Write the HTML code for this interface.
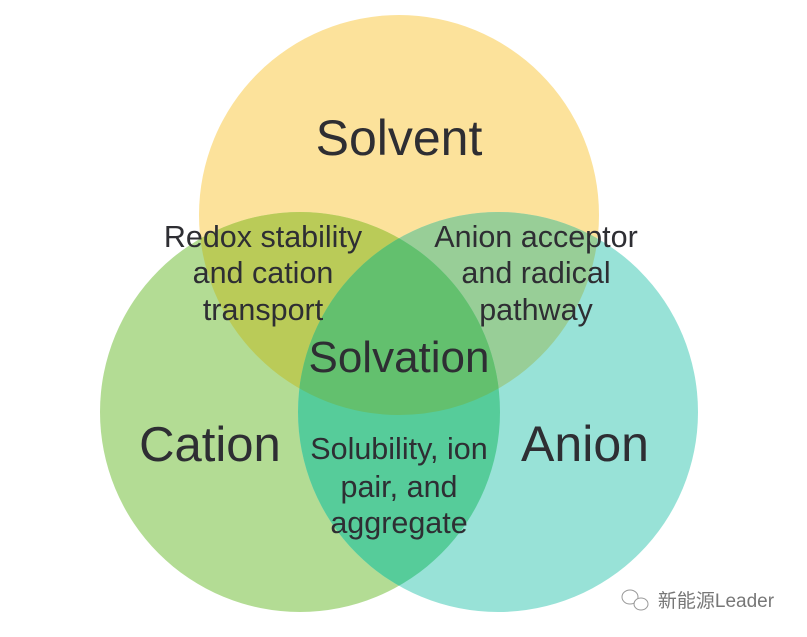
<!DOCTYPE html>
<html><head><meta charset="utf-8"><style>
html,body{margin:0;padding:0;background:#fff;width:807px;height:637px;overflow:hidden}
text{font-family:"Liberation Sans",Arial,sans-serif;fill:#2e2e33;text-anchor:middle}
</style></head><body>
<svg width="807" height="637" viewBox="0 0 807 637" xmlns="http://www.w3.org/2000/svg">
<defs>
<clipPath id="cs"><circle cx="399" cy="215" r="200"/></clipPath>
<clipPath id="cc"><circle cx="300" cy="412" r="200"/></clipPath>
<clipPath id="csc" clip-path="url(#cs)"><circle cx="300" cy="412" r="200"/></clipPath>
</defs>
<circle cx="399" cy="215" r="200" fill="#fce29b"/>
<circle cx="300" cy="412" r="200" fill="#b3dc94"/>
<circle cx="498" cy="412" r="200" fill="#98e2d7"/>
<circle cx="300" cy="412" r="200" fill="#bacb58" clip-path="url(#cs)"/>
<circle cx="498" cy="412" r="200" fill="#98ce97" clip-path="url(#cs)"/>
<circle cx="498" cy="412" r="200" fill="#56cc9a" clip-path="url(#cc)"/>
<circle cx="498" cy="412" r="200" fill="#63c06e" clip-path="url(#csc)"/>
<text x="399" y="155" font-size="50">Solvent</text>
<text x="210" y="461" font-size="49">Cation</text>
<text x="585" y="461" font-size="50">Anion</text>
<text x="399" y="372" font-size="44">Solvation</text>
<text x="263" y="247" font-size="30.5">Redox stability</text>
<text x="263" y="283" font-size="30.5">and cation</text>
<text x="263" y="320" font-size="30.5">transport</text>
<text x="536" y="247" font-size="30.5">Anion acceptor</text>
<text x="536" y="283" font-size="30.5">and radical</text>
<text x="536" y="320" font-size="30.5">pathway</text>
<text x="399" y="459" font-size="30.5">Solubility, ion</text>
<text x="399" y="497" font-size="30.5">pair, and</text>
<text x="399" y="533" font-size="30.5">aggregate</text>
<g fill="none" stroke="#999" stroke-width="1">
<ellipse cx="630" cy="597" rx="8" ry="7"/>
<ellipse cx="641" cy="604" rx="7" ry="6" fill="#fff"/>
</g>
<text x="716" y="607" font-size="19" style="font-family:'Liberation Sans','Noto Sans CJK SC',sans-serif;fill:#777">新能源Leader</text>
</svg>
</body></html>
